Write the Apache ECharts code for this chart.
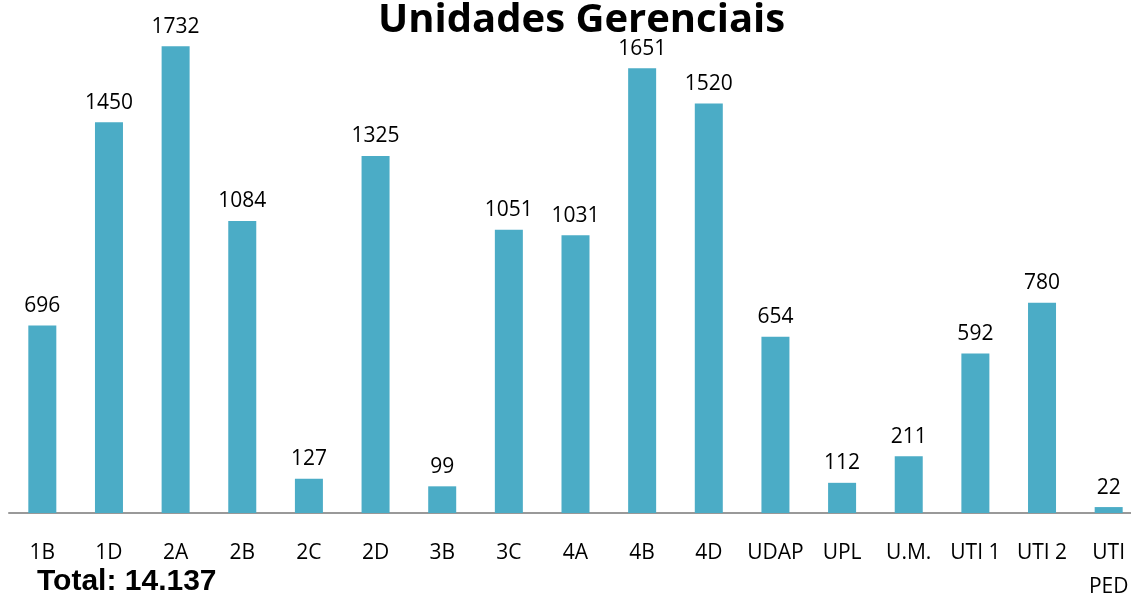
<!DOCTYPE html>
<html>
<head>
<meta charset="utf-8">
<script src="https://cdn.jsdelivr.net/npm/echarts@6/dist/echarts.min.js"></script>
<style>
  html, body { margin: 0; padding: 0; background: #fff; }
  #chart { width: 1131px; height: 596px; }
</style>
</head>
<body>
<div id="chart"></div>
<script>
const categories = ['1B', '1D', '2A', '2B', '2C', '2D', '3B', '3C', '4A', '4B', '4D', 'UDAP', 'UPL', 'U.M.', 'UTI 1', 'UTI 2', 'UTI\nPED'];
const values = [696, 1450, 1732, 1084, 127, 1325, 99, 1051, 1031, 1651, 1520, 654, 112, 211, 592, 780, 22];
const totalText = 'Total: 14.137';

let myChart = echarts.init(document.getElementById('chart'));
let option = {
  animation: false,
  title: {
    text: 'Unidades Gerenciais',
    left: 373,
    top: -4,
    textStyle: {
      fontFamily: 'Open Sans',
      fontWeight: 'bold',
      fontSize: 40,
      color: '#000'
    }
  },
  graphic: [{
    type: 'text',
    x: 37,
    y: 582,
    style: {
      text: totalText,
      font: 'bold 30px "Liberation Sans"',
      fill: '#000',
      verticalAlign: 'middle'
    }
  }],
  grid: {
    left: 9,
    top: 28,
    width: 1133,
    height: 485,
    outerBoundsMode: 'none'
  },
  xAxis: {
    type: 'category',
    data: categories,
    axisLine: { lineStyle: { color: '#999', width: 2 } },
    axisTick: { show: false },
    axisLabel: {
      interval: 0,
      margin: 23,
      fontFamily: 'Open Sans',
      fontSize: 21,
      lineHeight: 34,
      color: '#000'
    }
  },
  yAxis: {
    type: 'value',
    min: 0,
    max: 1800,
    show: false,
    splitLine: { show: false }
  },
  series: [{
    type: 'bar',
    data: values,
    barWidth: 28,
    itemStyle: { color: '#4BACC6' },
    label: {
      show: true,
      position: 'top',
      distance: 9,
      fontFamily: 'Open Sans',
      fontSize: 21,
      color: '#000'
    }
  }]
};
myChart.setOption(option);
</script>
</body>
</html>
